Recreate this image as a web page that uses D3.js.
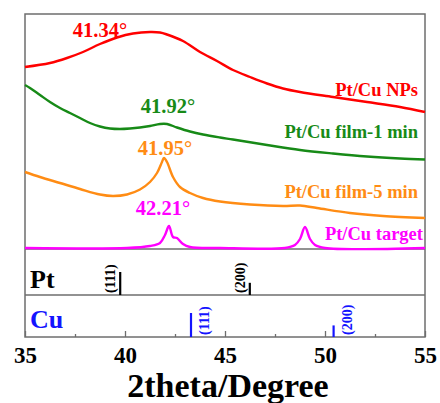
<!DOCTYPE html>
<html><head><meta charset="utf-8">
<script src="https://cdn.jsdelivr.net/npm/d3@7"></script>
<style>
body{margin:0;background:#fff;}
text{font-family:"Liberation Serif","Times New Roman",serif;font-weight:bold;}
</style></head>
<body><svg id="c" width="440" height="403"></svg>
<script>
// ---- data (2theta in degrees, intensity in a.u. with stacked offsets) ----
const npsX   = [35.0,36.25,37.1,37.9,38.75,39.6,40.4,41.25,41.75,42.1,42.9,43.75,44.6,45.4,46.25,47.1,47.9,48.75,50.4,52.1,53.75,55.0];
const npsY   = [182,186,191,197,205,211.5,215.5,217,216.5,214.5,208,197,188,179,172,165.5,160.5,157,152,147,142,137];
const film1X = [35.0,35.25,35.75,36.25,36.75,37.25,37.75,38.25,38.75,39.25,39.75,40.25,40.75,41.25,41.75,42.1,42.6,43.25,43.9,44.75,45.4,47.1,48.75,50.4,52.1,53.75,55.0];
const film1Y = [164,161,154,147,141,136,131,126,122.5,120.5,120,120.5,121.5,123,125,125,121.5,117.5,114.5,111.5,109.5,104,99,95.5,92.5,90.5,89.5];
const film5X = [35.0,35.75,36.75,37.75,38.75,39.4,40.1,40.75,41.25,41.6,41.85,41.95,42.1,42.4,42.75,43.25,43.9,44.75,46.25,47.9,48.75,49.6,51.25,52.9,55.0];
const film5Y = [77,72,66,60,54.5,53,54.5,59.5,67,76,87,91,87,72,62,56,51,47.5,44.5,43,43.5,41,36,33,31];
const targX  = [35.0,40.1,41.25,41.75,42.0,42.2,42.4,42.6,42.9,43.25,44.75,48.0,48.5,48.75,49.0,49.25,49.5,50.0,55.0];
const targY  = [1,1,3,6,14,23,12,11,5,2,1,1,4,10,22,10,4,1,1];
const seriesNames = ["Pt/Cu NPs","Pt/Cu film-1 min","Pt/Cu film-5 min","Pt/Cu target"];
const peakLabels  = ["41.34°","41.92°","41.95°","42.21°"];
const ptPos = [39.76,46.24], ptInt = [100,53], ptHkl = ["(111)","(200)"];
const cuPos = [43.30,50.43], cuInt = [100,46], cuHkl = ["(111)","(200)"];
const xTicks = [35,40,45,50,55];
const xMinor = [37.5,42.5,47.5,52.5];
const xTitle = "2theta/Degree";

// ---- layout ----
const L=25,R=425,T=14,B1=249,B2=295,B3=337;
const svg=d3.select("#c");
const x=d3.scaleLinear().domain([35,55]).range([L,R]);
const y=d3.scaleLinear().domain([0,235]).range([B1,T]);
const colors=["#ff0000","#178a17","#ff8c14","#ff00ff"];
const series=[[npsX,npsY],[film1X,film1Y],[film5X,film5Y],[targX,targY]];
const line=d3.line().x(d=>x(d[0])).y(d=>y(d[1])).curve(d3.curveCatmullRom.alpha(0.5));

// frames
const frameCol="#6e6e6e";
svg.append("rect").attr("x",L).attr("y",T).attr("width",R-L).attr("height",B3-T)
  .attr("fill","none").attr("stroke",frameCol).attr("stroke-width",1.5);
[B1,B2].forEach(yy=>svg.append("line").attr("x1",L).attr("x2",R).attr("y1",yy).attr("y2",yy)
  .attr("stroke",frameCol).attr("stroke-width",1.5));

// curves
series.forEach((s,i)=>{
  const pts=s[0].map((v,j)=>[v,s[1][j]]);
  svg.append("path").datum(pts).attr("d",line).attr("fill","none")
    .attr("stroke",colors[i]).attr("stroke-width",2.4).attr("stroke-linejoin","round");
});

// series names
const nameY=[96,138,198,240], nameX=[418,418,418,423];
seriesNames.forEach((n,i)=>svg.append("text").attr("x",nameX[i]).attr("y",nameY[i])
  .attr("text-anchor","end").attr("font-size",18.5).attr("fill",colors[i]).text(n));
// peak labels
const plX=[100,168,165,163], plY=[37,113,155,215];
peakLabels.forEach((n,i)=>svg.append("text").attr("x",plX[i]).attr("y",plY[i])
  .attr("text-anchor","middle").attr("font-size",20.5).attr("fill",colors[i]).text(n));

// reference sticks
const hs=d3.scaleLinear().domain([0,100]).range([0,23]);
svg.append("text").attr("x",30).attr("y",288).attr("font-size",26).attr("fill","#000").text("Pt");
svg.append("text").attr("x",30).attr("y",328).attr("font-size",26).attr("fill","#1414ff").text("Cu");
ptPos.forEach((p,i)=>{
  svg.append("line").attr("x1",x(p)).attr("x2",x(p)).attr("y1",B2).attr("y2",B2-hs(ptInt[i]))
    .attr("stroke","#000").attr("stroke-width",2.2);
  svg.append("text").attr("transform",`translate(${x(p)-5},${B2-2}) rotate(-90)`)
    .attr("font-size",14).attr("fill","#000").text(ptHkl[i]);
});
cuPos.forEach((p,i)=>{
  svg.append("line").attr("x1",x(p)).attr("x2",x(p)).attr("y1",B3).attr("y2",B3-hs(cuInt[i])-1)
    .attr("stroke","#1414ff").attr("stroke-width",2.2);
  svg.append("text").attr("transform",`translate(${x(p)+18},${B3-2}) rotate(-90)`)
    .attr("font-size",14).attr("fill","#1414ff").text(cuHkl[i]);
});

// x axis
const ax=svg.append("g").attr("transform",`translate(0,${B3})`)
  .call(d3.axisBottom(x).tickValues(xTicks).tickSize(-6).tickPadding(0).tickFormat(d3.format("d")));
ax.attr("font-family",null).attr("font-size",null);
ax.select(".domain").remove();
ax.selectAll(".tick line").attr("stroke",frameCol).attr("stroke-width",1.3);
ax.selectAll(".tick text").attr("font-size",23).attr("fill","#000").attr("dy",null).attr("y",26);
const ax2=svg.append("g").attr("transform",`translate(0,${B3})`)
  .call(d3.axisBottom(x).tickValues(xMinor).tickSize(-3).tickFormat(""));
ax2.select(".domain").remove();
ax2.selectAll(".tick line").attr("stroke",frameCol).attr("stroke-width",1.3);
svg.append("text").attr("x",228).attr("y",397).attr("text-anchor","middle")
  .attr("font-size",34).attr("fill","#000").text(xTitle);
</script></body></html>
